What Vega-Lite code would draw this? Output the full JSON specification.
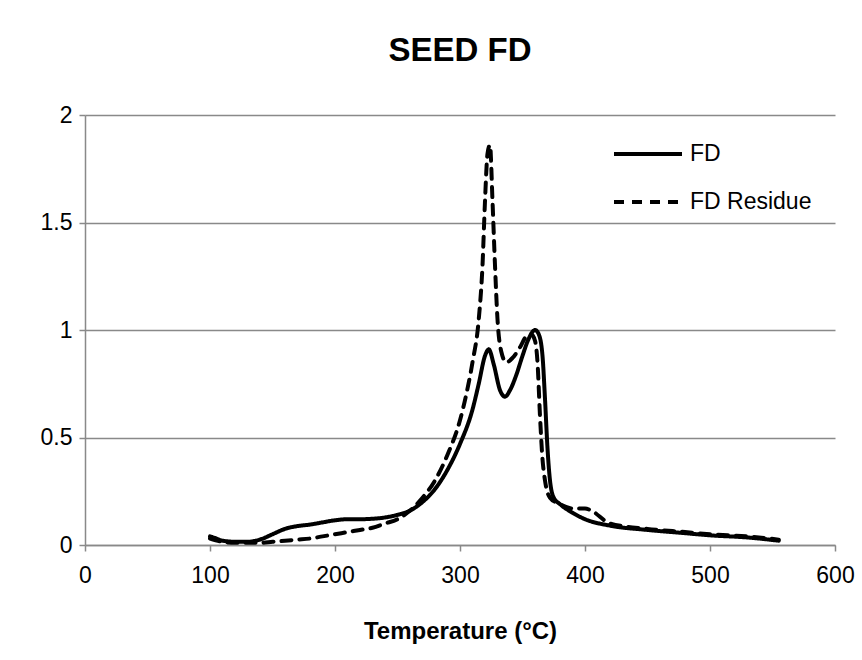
{
  "$schema": "https://vega.github.io/schema/vega-lite/v6.json",
  "width": 750,
  "height": 430,
  "autosize": {"type": "none"},
  "padding": {"left": 85, "top": 115, "right": 27, "bottom": 115},
  "background": "white",
  "title": {
    "text": "SEED FD",
    "anchor": "middle",
    "font": "Liberation Sans",
    "fontSize": 33,
    "fontWeight": "bold",
    "color": "black",
    "frame": "group",
    "offset": 36
  },
  "data": {
    "values": [
      {"series": "FD", "t": 100, "v": 0.04},
      {"series": "FD", "t": 105, "v": 0.03},
      {"series": "FD", "t": 110, "v": 0.02},
      {"series": "FD", "t": 120, "v": 0.015},
      {"series": "FD", "t": 130, "v": 0.015},
      {"series": "FD", "t": 140, "v": 0.025},
      {"series": "FD", "t": 150, "v": 0.05},
      {"series": "FD", "t": 160, "v": 0.075},
      {"series": "FD", "t": 170, "v": 0.088},
      {"series": "FD", "t": 180, "v": 0.095},
      {"series": "FD", "t": 190, "v": 0.105},
      {"series": "FD", "t": 200, "v": 0.115},
      {"series": "FD", "t": 210, "v": 0.12},
      {"series": "FD", "t": 220, "v": 0.12},
      {"series": "FD", "t": 230, "v": 0.122},
      {"series": "FD", "t": 240, "v": 0.128},
      {"series": "FD", "t": 250, "v": 0.14},
      {"series": "FD", "t": 260, "v": 0.16},
      {"series": "FD", "t": 270, "v": 0.2},
      {"series": "FD", "t": 280, "v": 0.26},
      {"series": "FD", "t": 290, "v": 0.35},
      {"series": "FD", "t": 300, "v": 0.47},
      {"series": "FD", "t": 310, "v": 0.63},
      {"series": "FD", "t": 315, "v": 0.75},
      {"series": "FD", "t": 320, "v": 0.88},
      {"series": "FD", "t": 323, "v": 0.91},
      {"series": "FD", "t": 327, "v": 0.84},
      {"series": "FD", "t": 332, "v": 0.72},
      {"series": "FD", "t": 336, "v": 0.69},
      {"series": "FD", "t": 340, "v": 0.72},
      {"series": "FD", "t": 345, "v": 0.79},
      {"series": "FD", "t": 350, "v": 0.88},
      {"series": "FD", "t": 355, "v": 0.96},
      {"series": "FD", "t": 360, "v": 1.0},
      {"series": "FD", "t": 363, "v": 0.98},
      {"series": "FD", "t": 366, "v": 0.88},
      {"series": "FD", "t": 368, "v": 0.68},
      {"series": "FD", "t": 370, "v": 0.45},
      {"series": "FD", "t": 372, "v": 0.3},
      {"series": "FD", "t": 375, "v": 0.22},
      {"series": "FD", "t": 380, "v": 0.19},
      {"series": "FD", "t": 390, "v": 0.15},
      {"series": "FD", "t": 400, "v": 0.12},
      {"series": "FD", "t": 420, "v": 0.09},
      {"series": "FD", "t": 450, "v": 0.07},
      {"series": "FD", "t": 480, "v": 0.055},
      {"series": "FD", "t": 500, "v": 0.045},
      {"series": "FD", "t": 530, "v": 0.035},
      {"series": "FD", "t": 555, "v": 0.02},
      {"series": "FD Residue", "t": 100, "v": 0.03},
      {"series": "FD Residue", "t": 110, "v": 0.015},
      {"series": "FD Residue", "t": 120, "v": 0.01},
      {"series": "FD Residue", "t": 130, "v": 0.01},
      {"series": "FD Residue", "t": 140, "v": 0.01},
      {"series": "FD Residue", "t": 150, "v": 0.015},
      {"series": "FD Residue", "t": 160, "v": 0.02},
      {"series": "FD Residue", "t": 170, "v": 0.025},
      {"series": "FD Residue", "t": 180, "v": 0.03},
      {"series": "FD Residue", "t": 190, "v": 0.04},
      {"series": "FD Residue", "t": 200, "v": 0.05},
      {"series": "FD Residue", "t": 210, "v": 0.06},
      {"series": "FD Residue", "t": 220, "v": 0.07},
      {"series": "FD Residue", "t": 230, "v": 0.08},
      {"series": "FD Residue", "t": 240, "v": 0.1},
      {"series": "FD Residue", "t": 250, "v": 0.12},
      {"series": "FD Residue", "t": 260, "v": 0.16},
      {"series": "FD Residue", "t": 270, "v": 0.22},
      {"series": "FD Residue", "t": 280, "v": 0.3},
      {"series": "FD Residue", "t": 290, "v": 0.42},
      {"series": "FD Residue", "t": 300, "v": 0.58},
      {"series": "FD Residue", "t": 305, "v": 0.7},
      {"series": "FD Residue", "t": 310, "v": 0.85},
      {"series": "FD Residue", "t": 315, "v": 1.05},
      {"series": "FD Residue", "t": 318, "v": 1.3},
      {"series": "FD Residue", "t": 320, "v": 1.6},
      {"series": "FD Residue", "t": 322, "v": 1.82},
      {"series": "FD Residue", "t": 324, "v": 1.86},
      {"series": "FD Residue", "t": 326, "v": 1.6},
      {"series": "FD Residue", "t": 328, "v": 1.3},
      {"series": "FD Residue", "t": 330, "v": 1.05},
      {"series": "FD Residue", "t": 333, "v": 0.9},
      {"series": "FD Residue", "t": 337, "v": 0.85},
      {"series": "FD Residue", "t": 342, "v": 0.87},
      {"series": "FD Residue", "t": 348, "v": 0.92},
      {"series": "FD Residue", "t": 353, "v": 0.97},
      {"series": "FD Residue", "t": 357, "v": 0.98},
      {"series": "FD Residue", "t": 360, "v": 0.95},
      {"series": "FD Residue", "t": 362, "v": 0.85},
      {"series": "FD Residue", "t": 364, "v": 0.6},
      {"series": "FD Residue", "t": 366, "v": 0.4},
      {"series": "FD Residue", "t": 368, "v": 0.3},
      {"series": "FD Residue", "t": 372, "v": 0.22},
      {"series": "FD Residue", "t": 380, "v": 0.19},
      {"series": "FD Residue", "t": 390, "v": 0.17},
      {"series": "FD Residue", "t": 400, "v": 0.17},
      {"series": "FD Residue", "t": 405, "v": 0.16},
      {"series": "FD Residue", "t": 420, "v": 0.1},
      {"series": "FD Residue", "t": 450, "v": 0.075},
      {"series": "FD Residue", "t": 480, "v": 0.06},
      {"series": "FD Residue", "t": 500, "v": 0.05},
      {"series": "FD Residue", "t": 530, "v": 0.04},
      {"series": "FD Residue", "t": 555, "v": 0.025}
    ]
  },
  "mark": {"type": "line", "color": "black", "strokeWidth": 4, "strokeCap": "round", "interpolate": "monotone"},
  "encoding": {
    "x": {
      "field": "t",
      "type": "quantitative",
      "scale": {"domain": [0, 600], "nice": false, "zero": false},
      "axis": {
        "values": [0, 100, 200, 300, 400, 500, 600],
        "grid": false,
        "title": "Temperature (°C)",
        "titleFont": "Liberation Sans",
        "titleFontSize": 24,
        "titleFontWeight": "bold",
        "titleColor": "black",
        "titlePadding": 32,
        "labelFont": "Liberation Sans",
        "labelFontSize": 23,
        "labelColor": "black",
        "labelPadding": 13,
        "domainColor": "#898989",
        "domainWidth": 1.5,
        "tickColor": "#898989",
        "tickWidth": 1.5,
        "tickSize": 6,
        "labelFlush": false
      }
    },
    "y": {
      "field": "v",
      "type": "quantitative",
      "scale": {"domain": [0, 2], "nice": false},
      "axis": {
        "values": [0, 0.5, 1, 1.5, 2],
        "format": "~g",
        "grid": true,
        "gridColor": "#898989",
        "gridWidth": 1.5,
        "title": null,
        "labelFont": "Liberation Sans",
        "labelFontSize": 23,
        "labelColor": "black",
        "labelPadding": 7,
        "domainColor": "#898989",
        "domainWidth": 1.5,
        "tickColor": "#898989",
        "tickWidth": 1.5,
        "tickSize": 6,
        "labelFlush": false
      }
    },
    "strokeDash": {
      "field": "series",
      "type": "nominal",
      "scale": {"domain": ["FD", "FD Residue"], "range": [[1, 0], [10, 8]]},
      "legend": {
        "title": null,
        "orient": "none",
        "legendX": 527,
        "legendY": 3,
        "symbolType": "stroke",
        "symbolSize": 4624,
        "symbolStrokeWidth": 4,
        "symbolStrokeColor": "black",
        "labelFont": "Liberation Sans",
        "labelFontSize": 23,
        "labelColor": "black",
        "labelOffset": 6,
        "rowPadding": -26
      }
    }
  },
  "config": {"view": {"stroke": null}}
}
